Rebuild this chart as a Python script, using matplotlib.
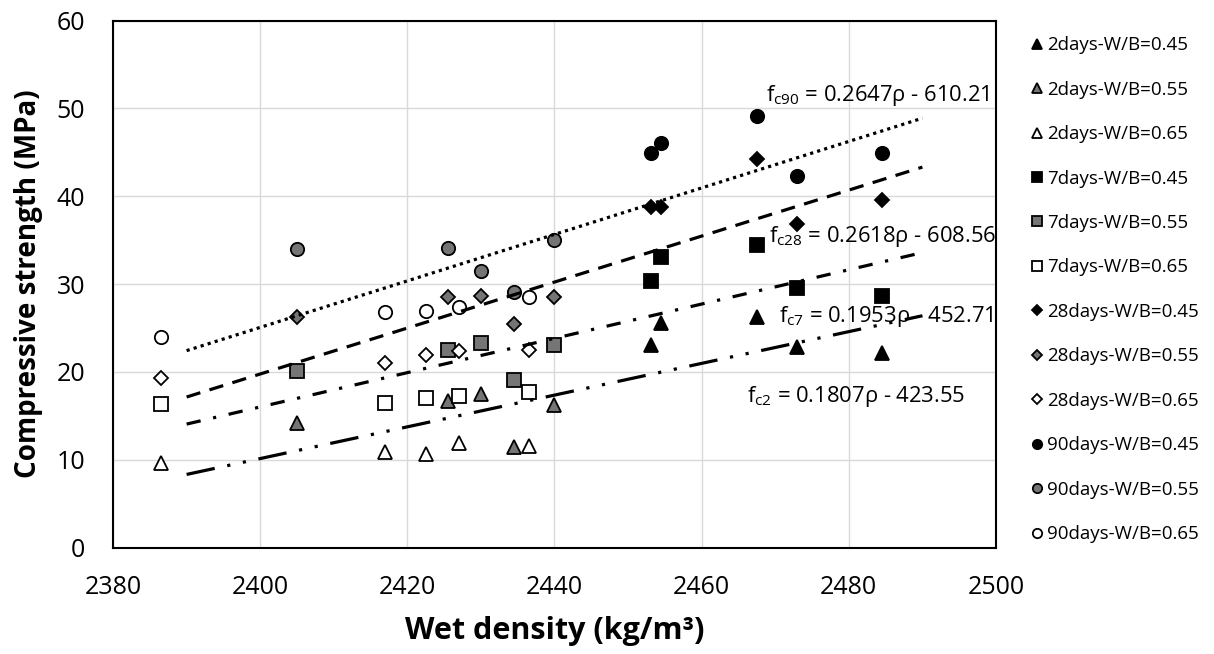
import matplotlib
matplotlib.use("Agg")
import matplotlib.pyplot as plt
import numpy as np

plt.rcParams['font.family'] = ['Open Sans', 'DejaVu Sans']
plt.rcParams['mathtext.fontset'] = 'custom'
plt.rcParams['mathtext.rm'] = 'Open Sans'

# wet density of the mixes (kg/m3) for each W/B ratio
rho_045 = [2453.1, 2454.5, 2467.5, 2473.0, 2484.5]
rho_055 = [2405.0, 2425.5, 2430.0, 2434.5, 2440.0]
rho_065 = [2386.5, 2417.0, 2422.5, 2427.0, 2436.5]

# compressive strength (MPa) at each age
d2_045 = [23.1, 25.6, 26.3, 22.8, 22.1]
d2_055 = [14.15, 16.7, 17.45, 11.4, 16.2]
d2_065 = [9.6, 10.9, 10.6, 11.9, 11.6]
d7_045 = [30.4, 33.1, 34.4, 29.55, 28.6]
d7_055 = [20.1, 22.5, 23.3, 19.1, 23.1]
d7_065 = [16.3, 16.5, 17.05, 17.3, 17.7]
d28_045 = [38.8, 38.8, 44.2, 36.8, 39.6]
d28_055 = [26.2, 28.5, 28.6, 25.5, 28.5]
d28_065 = [19.3, 21.0, 21.9, 22.35, 22.5]
d90_045 = [44.9, 46.1, 49.1, 42.35, 44.9]
d90_055 = [34.0, 34.1, 31.5, 29.1, 35.05]
d90_065 = [24.0, 26.8, 26.9, 27.4, 28.5]

# linear fits f = a*rho + b
fit_labels = ['c2', 'c7', 'c28', 'c90']
fit_slope = [0.1807, 0.1953, 0.2618, 0.2647]
fit_icept = [-423.55, -452.71, -608.56, -610.21]
fit_range = [2390, 2490]

gray = '#757575'
series = [
    ('2days-W/B=0.45', rho_045, d2_045, '^', 'black'),
    ('2days-W/B=0.55', rho_055, d2_055, '^', gray),
    ('2days-W/B=0.65', rho_065, d2_065, '^', 'white'),
    ('7days-W/B=0.45', rho_045, d7_045, 's', 'black'),
    ('7days-W/B=0.55', rho_055, d7_055, 's', gray),
    ('7days-W/B=0.65', rho_065, d7_065, 's', 'white'),
    ('28days-W/B=0.45', rho_045, d28_045, 'D', 'black'),
    ('28days-W/B=0.55', rho_055, d28_055, 'D', gray),
    ('28days-W/B=0.65', rho_065, d28_065, 'D', 'white'),
    ('90days-W/B=0.45', rho_045, d90_045, 'o', 'black'),
    ('90days-W/B=0.55', rho_055, d90_055, 'o', gray),
    ('90days-W/B=0.65', rho_065, d90_065, 'o', 'white'),
]
msize = {'^': 9.6, 's': 9.4, 'D': 6.8, 'o': 9.6}

fig = plt.figure(figsize=(12.14, 6.54), dpi=100)
ax = fig.add_axes([0.0931, 0.1628, 0.7273, 0.8056])

handles = []
for label, x, y, m, fc in series:
    h, = ax.plot(x, y, linestyle='none', marker=m, markersize=msize[m],
                 markerfacecolor=fc, markeredgecolor='black',
                 markeredgewidth=1.3, label=label, zorder=3)
    handles.append(h)

styles = {
    'c2': (0, (9, 4, 1, 4, 1, 4)),
    'c7': (0, (4.5, 4, 1, 4)),
    'c28': (0, (4.5, 3)),
    'c90': (0, (1, 1.3)),
}
xf = np.array(fit_range, dtype=float)
for name, a, b in zip(fit_labels, fit_slope, fit_icept):
    ax.plot(xf, a * xf + b, color='black', linewidth=2.3,
            linestyle=styles[name], dash_capstyle='butt', zorder=4)

# equation labels
eq_pos = {'c90': (2468.7, 50.9), 'c28': (2469.1, 34.8),
          'c7': (2470.5, 25.7), 'c2': (2466.1, 16.6)}
for name, a, b in zip(fit_labels, fit_slope, fit_icept):
    tx, ty = eq_pos[name]
    ax.text(tx, ty, r'$\mathregular{f_{%s}}$ = %.4fρ - %.2f' % (name, a, -b),
            fontsize=15.8, ha='left', va='baseline', zorder=5)

ax.set_xlim(2380, 2500)
ax.set_ylim(0, 60)
ax.set_xticks(np.arange(2380, 2501, 20))
ax.set_yticks(np.arange(0, 61, 10))
ax.grid(True, color='#d9d9d9', linewidth=1.0, zorder=0)
ax.set_axisbelow(True)
ax.tick_params(length=0, labelsize=18, pad=20)
for s in ax.spines.values():
    s.set_linewidth(1.5)

ax.set_xlabel('Wet density (kg/m³)', fontsize=22, fontweight='bold')
ax.set_ylabel('Compressive strength (MPa)', fontsize=20, fontweight='bold')
ax.xaxis.set_label_coords(0.5, -0.13)
ax.yaxis.set_label_coords(-0.079, 0.5)

fig.legend(handles=handles, loc='upper left', bbox_to_anchor=(0.848, 0.9445),
           frameon=False, fontsize=13.5, markerscale=0.7, borderpad=0,
           borderaxespad=0, handlelength=0.8, handletextpad=0.15,
           labelspacing=1.41)

fig.savefig('out.png', dpi=100)
